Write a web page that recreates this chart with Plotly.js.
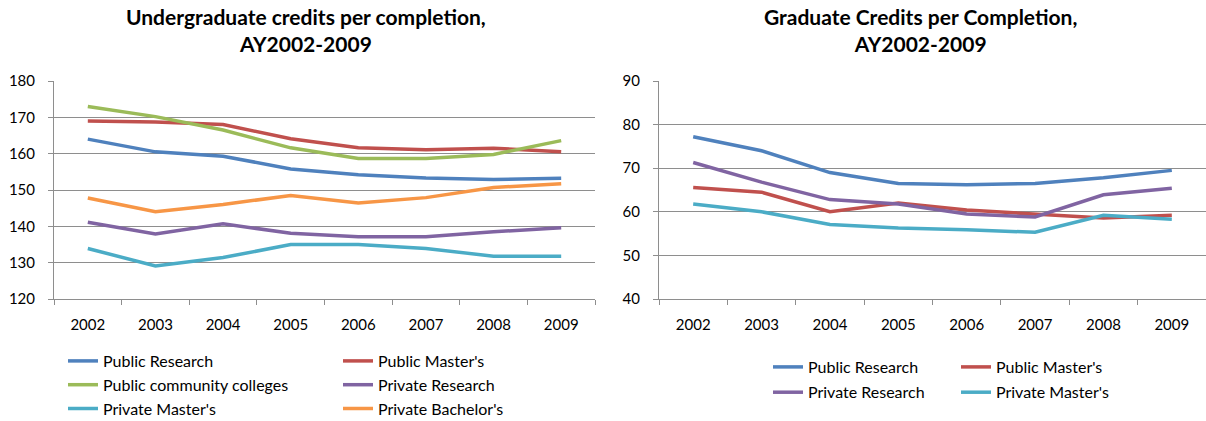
<!DOCTYPE html>
<html>
<head>
<meta charset="utf-8">
<script src="https://cdn.plot.ly/plotly-3.0.1.min.js"></script>
<style>
  html, body { margin: 0; padding: 0; background: #fff; }
  #chart { width: 1206px; height: 421px; }
</style>
</head>
<body>
<div id="chart"></div>
<script>
// Academic years shown on both category axes
const years = ['2002', '2003', '2004', '2005', '2006', '2007', '2008', '2009'];

// Undergraduate credits per completion
const ugPublicResearch   = [164.0, 160.5, 159.3, 155.8, 154.2, 153.3, 152.9, 153.2];
const ugPublicMasters    = [169.0, 168.7, 168.0, 164.1, 161.6, 161.1, 161.5, 160.5];
const ugCommunityCollege = [173.0, 170.2, 166.5, 161.6, 158.7, 158.7, 159.8, 163.6];
const ugPrivateResearch  = [141.1, 137.9, 140.7, 138.1, 137.1, 137.1, 138.5, 139.6];
const ugPrivateMasters   = [133.9, 129.1, 131.4, 135.0, 135.0, 133.9, 131.8, 131.8];
const ugPrivateBachelors = [147.8, 144.0, 146.0, 148.5, 146.4, 147.9, 150.7, 151.7];

// Graduate credits per completion
const grPublicResearch  = [77.2, 74.0, 69.0, 66.5, 66.2, 66.5, 67.8, 69.5];
const grPublicMasters   = [65.6, 64.5, 60.0, 62.0, 60.4, 59.5, 58.6, 59.2];
const grPrivateResearch = [71.3, 66.8, 62.8, 61.8, 59.5, 58.8, 63.9, 65.4];
const grPrivateMasters  = [61.8, 60.0, 57.1, 56.3, 55.9, 55.3, 59.2, 58.3];

const titleLeft  = 'Undergraduate credits per completion,<br>AY2002-2009';
const titleRight = 'Graduate Credits per Completion,<br>AY2002-2009';

const C = {
  blue: '#4F81BD', red: '#C0504D', green: '#9BBB59',
  purple: '#8064A2', teal: '#4BACC6', orange: '#F79646'
};
const FONT = 'Lato, "Open Sans", sans-serif';
const GRID = '#8E8E8E';
const W = 1206, H = 421;

function line(name, y, color, axis, legend) {
  return {
    type: 'scatter', mode: 'lines', name: name, x: years, y: y,
    xaxis: axis[0], yaxis: axis[1], legend: legend, legendgroup: legend + name,
    line: { color: color, width: 3.5 },
    hoverinfo: 'x+y+name'
  };
}

const L = ['x', 'y'], R = ['x2', 'y2'];
const traces = [
  line('Public Research', ugPublicResearch, C.blue, L, 'legend'),
  line('Public Master\'s', ugPublicMasters, C.red, L, 'legend2'),
  line('Public community colleges', ugCommunityCollege, C.green, L, 'legend'),
  line('Private Research', ugPrivateResearch, C.purple, L, 'legend2'),
  line('Private Master\'s', ugPrivateMasters, C.teal, L, 'legend'),
  line('Private Bachelor\'s', ugPrivateBachelors, C.orange, L, 'legend2'),
  line('Public Research', grPublicResearch, C.blue, R, 'legend3'),
  line('Public Master\'s', grPublicMasters, C.red, R, 'legend4'),
  line('Private Research', grPrivateResearch, C.purple, R, 'legend3'),
  line('Private Master\'s', grPrivateMasters, C.teal, R, 'legend4')
];

const yTop = 1 - 81 / H, yBot = 1 - 299 / H;

function xAxis(domain, anchor) {
  return {
    domain: domain, anchor: anchor, type: 'category', range: [-0.5, years.length - 0.5],
    tickson: 'boundaries', ticks: 'outside', ticklen: 5, tickcolor: GRID,
    showgrid: false, showline: true, linecolor: GRID, linewidth: 1,
    ticklabelstandoff: 12, zeroline: false, automargin: false,
    tickfont: { family: FONT, size: 15, color: '#000' },
    fixedrange: true
  };
}
function yAxis(range, anchor) {
  return {
    domain: [yBot, yTop], anchor: anchor, range: range, dtick: 10,
    ticks: 'outside', ticklen: 5, tickcolor: GRID,
    showgrid: true, gridcolor: GRID, gridwidth: 1,
    showline: true, linecolor: GRID, linewidth: 1,
    ticklabelstandoff: 10, zeroline: false, automargin: false,
    tickfont: { family: FONT, size: 15, color: '#000' },
    fixedrange: true
  };
}
function legendAt(px, py, gap) {
  return {
    x: px / W, y: 1 - py / H, xanchor: 'left', yanchor: 'top',
    orientation: 'v', tracegroupgap: gap, bgcolor: 'rgba(0,0,0,0)',
    borderwidth: 0, font: { family: FONT, size: 16, color: '#000' }
  };
}
function title(text, cx) {
  return {
    text: text, xref: 'paper', yref: 'paper', x: cx / W, y: 1 - 2 / H,
    xanchor: 'center', yanchor: 'top', showarrow: false, align: 'center',
    font: { family: FONT, size: 21, color: '#000', weight: 'bold' }
  };
}

const layout = {
  width: W, height: H,
  margin: { l: 0, r: 0, t: 0, b: 0, pad: 0, autoexpand: false },
  paper_bgcolor: '#fff', plot_bgcolor: '#fff',
  showlegend: true,
  xaxis: xAxis([54 / W, 595 / W], 'y'),
  yaxis: yAxis([120, 180], 'x'),
  xaxis2: xAxis([659 / W, 1], 'y2'),
  yaxis2: yAxis([40, 90], 'x2'),
  legend: legendAt(63, 344, 0),
  legend2: legendAt(338, 344, 0),
  legend3: legendAt(768, 350, 1.5),
  legend4: legendAt(956, 350, 1.5),
  annotations: [title(titleLeft, 306), title(titleRight, 920)]
};

Plotly.newPlot('chart', traces, layout, { displayModeBar: false, staticPlot: true });
</script>
</body>
</html>
